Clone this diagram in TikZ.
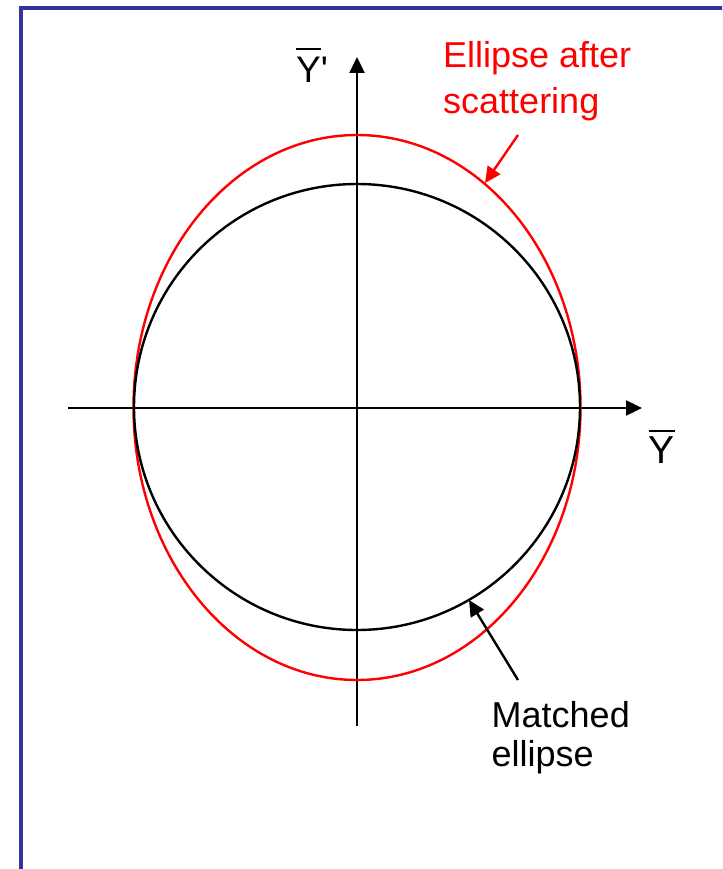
\documentclass[tikz,border=0pt]{standalone}
\usepackage{fontspec}
\setmainfont{Liberation Sans}
\usetikzlibrary{arrows.meta}
\definecolor{framebl}{RGB}{51,51,153}
\definecolor{pptred}{RGB}{255,0,0}
\newcommand\barlabel[2]{\leavevmode\vbox{\hrule height 2pt\kern #2\hbox{#1}}}
\tikzset{
  axis/.style={line width=2.4pt, -{Triangle[length=16pt,width=15pt]}},
  pointer/.style={line width=2.4pt, -{Triangle[length=16pt,width=15pt]}},
  curve/.style={line width=2.4pt},
  lbl/.style={inner sep=0pt, anchor=base west, align=left},
}
\begin{document}
\begin{tikzpicture}[x=1pt,y=-1pt]
\useasboundingbox (0,0) rectangle (722,869);
\clip (0,0) rectangle (722,869);
% frame
\draw[framebl, line width=4pt] (21,900) -- (21,8) -- (760,8);
% axes
\coordinate (xstart) at (68,408);
\coordinate (xend) at (642,408);
\coordinate (ystart) at (357,726);
\coordinate (yend) at (357,57);
\draw[axis] (xstart) -- (xend);
\draw[axis] (ystart) -- (yend);
% curves
\draw[curve, pptred] (357,407.5) ellipse [x radius=223.5, y radius=272.5];
\draw[curve, black] (357,407) circle [radius=223];
% labels
\node[lbl, font=\fontsize{37}{40}\selectfont] (yplabel) at (296,82.3) {\barlabel{Y}{7pt}\textquotesingle};
\node[lbl, font=\fontsize{39}{42}\selectfont] (ylabel) at (648.5,463) {\barlabel{Y}{4pt}};
\node[lbl, text=pptred, font=\fontsize{36}{46}\selectfont] (scat) at (443,113.3) {Ellipse after\\scattering};
\node[lbl, font=\fontsize{36}{39.5}\selectfont] (match) at (491.5,766.7) {Matched\\ellipse};
% pointers
\coordinate (redfrom) at (518,135);
\coordinate (redto) at (485,183);
\coordinate (blkfrom) at (518,680);
\coordinate (blkto) at (469,600);
\draw[pointer, pptred] (redfrom) -- (redto);
\draw[pointer, black] (blkfrom) -- (blkto);
\end{tikzpicture}
\end{document}
